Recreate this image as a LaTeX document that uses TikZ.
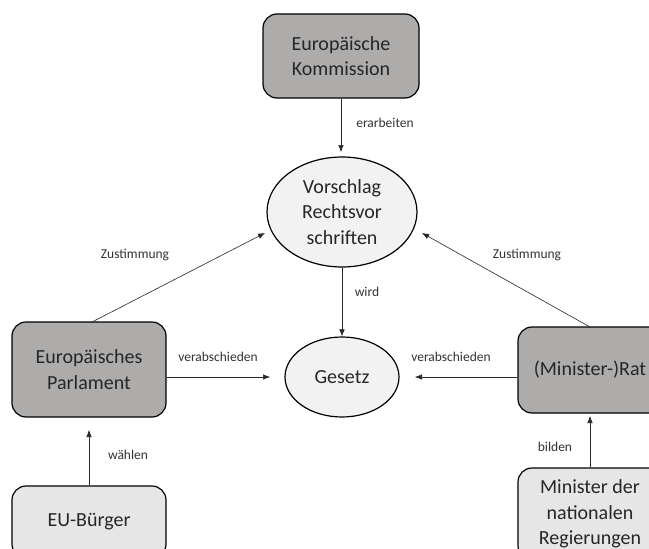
\documentclass[tikz,border=0pt]{standalone}
\usepackage{fontspec}
\setmainfont{Carlito}
\usetikzlibrary{arrows.meta,shapes.geometric}
\definecolor{darkfill}{HTML}{AEABAB}
\definecolor{lightfill}{HTML}{E7E6E6}
\definecolor{ellfill}{HTML}{F2F2F2}
\definecolor{txt}{HTML}{262626}
\definecolor{lbl}{HTML}{333333}
\tikzset{
  darkbox/.style={draw=black, line width=1.2pt, fill=darkfill, rounded corners=14pt, align=center, text=txt, font=\fontsize{20}{25.5}\selectfont, inner sep=0pt},
  lightbox/.style={draw=black, line width=1.2pt, fill=lightfill, rounded corners=14pt, align=center, text=txt, font=\fontsize{20}{25.5}\selectfont, inner sep=0pt},
  ellnode/.style={draw=black, line width=1.2pt, fill=ellfill, ellipse, align=center, text=txt, font=\fontsize{20}{25.5}\selectfont, inner sep=0pt},
  conn/.style={draw=black!85, line width=0.6pt, -{Latex[length=7pt,width=5.5pt]}},
  lab/.style={text=lbl, font=\fontsize{13.5}{16}\selectfont, inner sep=0pt}
}
\begin{document}
\begin{tikzpicture}[x=1pt,y=-1pt]
\useasboundingbox (0,0) rectangle (649,549);
\clip (0,0) rectangle (649,549);
\fill[white] (0,0) rectangle (649,549);
% nodes
\node[darkbox, minimum width=156pt, minimum height=84pt] (kom) at (341,56) {Europäische\\Kommission};
\node[ellnode, minimum width=150pt, minimum height=110pt] (vor) at (342,212) {Vorschlag\\Rechtsvor\\schriften};
\node[ellnode, minimum width=114pt, minimum height=80pt] (ges) at (342,377) {Gesetz};
\node[darkbox, minimum width=154pt, minimum height=95pt] (par) at (89,369.5) {Europäisches\\Parlament};
\node[darkbox, minimum width=144pt, minimum height=86pt] (rat) at (590,370) {(Minister-)Rat};
\node[lightbox, minimum width=154pt, minimum height=72pt] (eub) at (89,522) {EU-Bürger};
\node[lightbox, minimum width=144pt, minimum height=92pt] (min) at (590,514) {Minister der\\nationalen\\Regierungen};
% helper coordinates
\coordinate (vorTop) at (341,152);
\coordinate (gesL) at (270,377);
\coordinate (gesR) at (415,377);
\coordinate (vorL) at (265,233);
\coordinate (vorR) at (422,233);
\coordinate (parTop) at (92,322);
\coordinate (ratTop) at (590,327);
\coordinate (parBot) at (89,430);
\coordinate (ratBot) at (590,416);
% connectors
\draw[conn] (kom.south) -- (vorTop);
\draw[conn] (vor.south) -- (ges.north);
\draw[conn] (par.east |- gesL) -- (gesL);
\draw[conn] (rat.west |- gesR) -- (gesR);
\draw[conn] (parTop) -- (vorL);
\draw[conn] (ratTop) -- (vorR);
\draw[conn] (eub.north) -- (parBot);
\draw[conn] (min.north) -- (ratBot);
% labels
\node[lab] (l1) at (385,123) {erarbeiten};
\node[lab] (l2) at (367,292) {wird};
\node[lab] (l3) at (218,357) {verabschieden};
\node[lab] (l4) at (451,357) {verabschieden};
\node[lab] (l5) at (135,255) {Zustimmung};
\node[lab] (l6) at (527,255) {Zustimmung};
\node[lab] (l7) at (128,455) {wählen};
\node[lab] (l8) at (555,447) {bilden};
\end{tikzpicture}
\end{document}
